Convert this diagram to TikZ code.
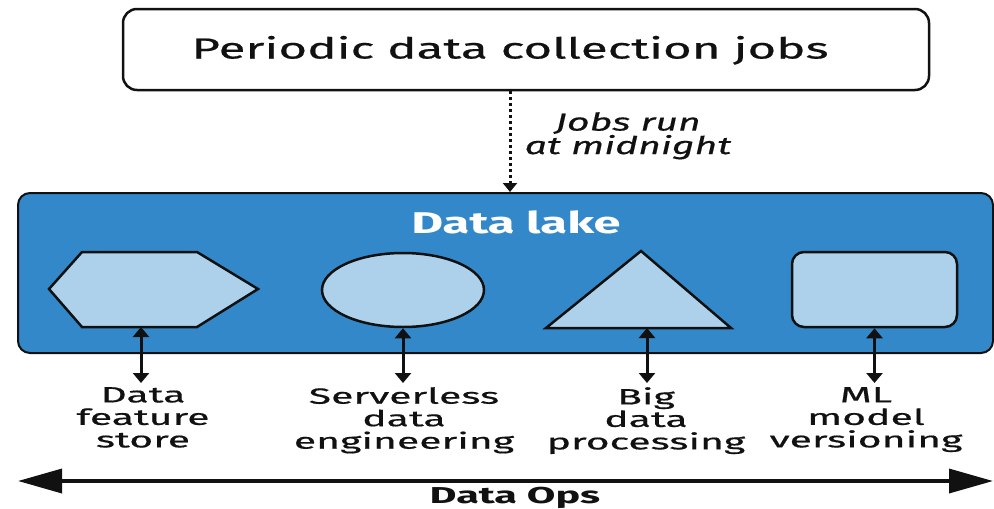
\documentclass[tikz,border=0pt]{standalone}
\usepackage{fontspec}
\setmainfont{Fira Sans}
% wide-set cuts of the same family for the different text roles
\newfontfamily\titlefont{Fira Sans}[FakeStretch=1.70, FakeBold=0.6]
\newfontfamily\lakefont{Fira Sans}[FakeStretch=1.63]
\newfontfamily\notefont{Fira Sans}[FakeStretch=1.60, FakeBold=0.5]
\newfontfamily\tagfont{Fira Sans}[FakeStretch=1.86, FakeBold=0.6]
\newfontfamily\opsfont{Fira Sans}[FakeStretch=1.80]
\usetikzlibrary{arrows.meta,shapes.geometric}
\definecolor{lakeblue}{HTML}{3388C9}
\definecolor{shapefill}{HTML}{AED1EB}
\definecolor{ink}{HTML}{111111}
\tikzset{
  jobbox/.style={draw=ink, line width=2.5pt, rounded corners=14pt, fill=white},
  lakebox/.style={draw=ink, line width=2pt, rounded corners=12pt, fill=lakeblue},
  store/.style={draw=ink, line width=2.5pt, fill=shapefill},
  link/.style={draw=ink, line width=3pt, shorten >=4pt, {Triangle[width=16pt,length=10pt]}-{Triangle[width=16pt,length=10pt]}},
  runs/.style={draw=ink, line width=3pt, dash pattern=on 2.5pt off 3.5pt, -{Triangle[width=14pt,length=9pt]}},
  span/.style={draw=ink, line width=3.5pt, {Triangle[width=24pt,length=44pt]}-{Triangle[width=24pt,length=44pt]}},
  tag/.style={inner sep=0pt, align=center, text=ink, font=\tagfont\fontsize{22}{22.5}\selectfont},
}
\begin{document}
\begin{tikzpicture}[x=1pt, y=-1pt]
\useasboundingbox (0,0) rectangle (994,509);

% scheduled jobs
\node[jobbox, minimum width=806pt, minimum height=81pt, inner sep=0pt] (jobs) at (526,49.5) {};
\node[inner sep=0pt, anchor=base, text=ink, font=\titlefont\fontsize{29}{30}\selectfont] (jobstext) at (510,58.5) {Periodic data collection jobs};

% data lake container
\node[lakebox, minimum width=975pt, minimum height=160pt, inner sep=0pt] (lake) at (505.5,273) {};
\node[inner sep=0pt, anchor=base, text=white, font=\lakefont\bfseries\fontsize{30}{31}\selectfont] (laketext) at (516,233) {Data lake};

\draw[runs] (jobstext |- jobs.south) -- (jobstext |- lake.north);
\node[inner sep=0pt, align=center, text=ink, font=\notefont\itshape\fontsize{24.5}{18}\selectfont, anchor=north] (when) at (628,112) {Jobs run\\at midnight};

% stores inside the lake
\draw[store] (49,289) -- (82,252) -- (197,252) -- (258,289) -- (197,327) -- (82,327) -- cycle;
\coordinate (hexb) at (141,327);
\node[store, ellipse, minimum width=162pt, minimum height=74pt, inner sep=0pt] (ell) at (403,290) {};
\draw[store, line join=miter] (641,251) -- (731,328) -- (546,328) -- cycle;
\coordinate (trib) at (647,328);
\node[store, rounded corners=12pt, minimum width=165pt, minimum height=75pt, inner sep=0pt] (box) at (874.5,289.5) {};

% labels
\node[tag, anchor=north] (l1) at (143,387) {Data\\feature\\store};
\node[tag, anchor=north] (l2) at (404,387) {Serverless\\data\\engineering};
\node[tag, anchor=north] (l3) at (646,387) {Big\\data\\processing};
\node[tag, anchor=north] (l4) at (866,387) {ML\\model\\versioning};

\draw[link] (hexb) -- (hexb |- l1.north);
\draw[link] (ell.south) -- (ell.south |- l2.north);
\draw[link] (trib) -- (trib |- l3.north);
\draw[link] (box.south) -- (box.south |- l4.north);

% data ops span
\coordinate (opsL) at (18,481);
\coordinate (opsR) at (993,481);
\draw[span] (opsL) -- (opsR);
\node[inner sep=0pt, anchor=base, text=ink, font=\opsfont\bfseries\fontsize{23}{24}\selectfont] (ops) at (515,503) {Data Ops};
\end{tikzpicture}
\end{document}
